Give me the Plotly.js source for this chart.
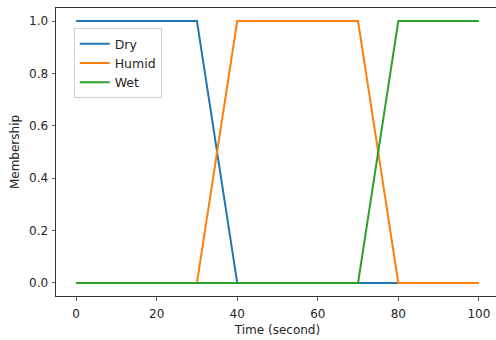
<!DOCTYPE html>
<html>
<head>
<meta charset="utf-8">
<script src="https://cdn.plot.ly/plotly-3.0.1.min.js"></script>
<style>
html, body { margin:0; padding:0; overflow:hidden; background:#fff; }
#chart { width:504px; height:340px; }
</style>
</head>
<body>
<div id="chart"></div>
<script>
const dryX = [0, 30, 40, 100];
const dryY = [1, 1, 0, 0];
const humidX = [0, 30, 40, 70, 80, 100];
const humidY = [0, 0, 1, 1, 0, 0];
const wetX = [0, 70, 80, 100];
const wetY = [0, 0, 1, 1];
const seriesNames = ['Dry', 'Humid', 'Wet'];
const xTicks = [0, 20, 40, 60, 80, 100];
const yTicks = [0, 0.2, 0.4, 0.6, 0.8, 1.0];
const yTickText = ['0.0', '0.2', '0.4', '0.6', '0.8', '1.0'];

const colors = ['#1f77b4', '#ff7f0e', '#2ca02c'];
const xs = [dryX, humidX, wetX];
const ys = [dryY, humidY, wetY];
const traces = seriesNames.map((n, i) => ({
  x: xs[i], y: ys[i], name: n, type: 'scatter', mode: 'lines',
  line: {color: colors[i], width: 2}
}));

const font = {family: 'DejaVu Sans', size: 12, color: '#262626'};
const layout = {
  width: 504, height: 340,
  margin: {l: 55.5, r: 4.5, t: 7.5, b: 44},
  paper_bgcolor: '#fff', plot_bgcolor: '#fff',
  font: font,
  showlegend: true,
  legend: {
    x: 0.04, y: 0.93, xanchor: 'left', yanchor: 'top',
    bgcolor: 'rgba(255,255,255,0.8)', bordercolor: '#d0d0d0', borderwidth: 1,
    font: {family: 'DejaVu Sans', size: 12.5, color: '#262626'},
    tracegroupgap: 0, itemwidth: 30
  },
  xaxis: {
    range: [-5, 105], tickvals: xTicks, ticktext: xTicks.map(String),
    showgrid: false, zeroline: false, showline: true, mirror: true,
    linecolor: '#333', linewidth: 1, ticks: 'outside', ticklen: 3.5, tickwidth: 0.8, tickcolor: '#333',
    tickfont: font, ticklabelstandoff: 3,
    title: {text: 'Time (second)', font: font, standoff: 5}
  },
  yaxis: {
    range: [-0.05, 1.05], tickvals: yTicks, ticktext: yTickText,
    showgrid: false, zeroline: false, showline: true, mirror: true,
    linecolor: '#333', linewidth: 1, ticks: 'outside', ticklen: 3.5, tickwidth: 0.8, tickcolor: '#333',
    tickfont: font, ticklabelstandoff: 1,
    title: {text: 'Membership', font: font, standoff: 6}
  }
};
Plotly.newPlot('chart', traces, layout, {displayModeBar: false, staticPlot: true});
</script>
</body>
</html>
